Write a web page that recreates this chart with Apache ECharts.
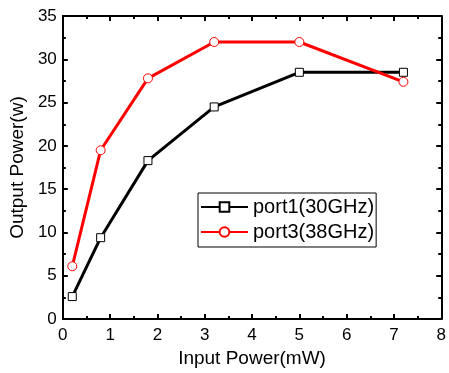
<!DOCTYPE html>
<html><head><meta charset="utf-8">
<script src="https://cdn.jsdelivr.net/npm/echarts@6/dist/echarts.min.js"></script>
<style>html,body{margin:0;padding:0;background:#fff}#c{width:449px;height:373px}</style>
</head><body><div id="c"></div>
<script>
const xInput = [0.2, 0.8, 1.8, 3.2, 5, 7.2];
const port1 = [2.6, 9.4, 18.3, 24.5, 28.5, 28.5];
const port3 = [6.1, 19.5, 27.8, 32, 32, 27.4];
const seriesNames = ['port1(30GHz)', 'port3(38GHz)'];

const font = 'Liberation Sans, Arial, sans-serif';
const axisCommon = {
  axisLine: {show: true, onZero: false, lineStyle: {color: '#000', width: 2}},
  axisTick: {show: true, inside: true, length: 5, lineStyle: {color: '#000', width: 2}},
  minorTick: {show: true, splitNumber: 2, length: 3, lineStyle: {color: '#000', width: 2}},
  splitLine: {show: false}
};
const chart = echarts.init(document.getElementById('c'));
chart.setOption({
  animation: false,
  grid: {left: 61, right: 4, top: 16, bottom: 48},
  xAxis: [
    Object.assign({type: 'value', min: 0, max: 8, interval: 1, position: 'bottom',
      name: 'Input Power(mW)', nameLocation: 'middle', nameGap: 27,
      nameTextStyle: {fontFamily: font, fontSize: 19, color: '#000'},
      axisLabel: {fontFamily: font, fontSize: 17, color: '#000', margin: 8}}, axisCommon),
    Object.assign({type: 'value', min: 0, max: 8, interval: 1, position: 'top',
      axisLabel: {show: false}}, axisCommon)
  ],
  yAxis: [
    Object.assign({type: 'value', min: 0, max: 35, interval: 5, position: 'left',
      name: 'Output Power(w)', nameLocation: 'middle', nameGap: 30,
      nameTextStyle: {fontFamily: font, fontSize: 19, color: '#000'},
      axisLabel: {fontFamily: font, fontSize: 17, color: '#000', margin: 6}}, axisCommon),
    Object.assign({type: 'value', min: 0, max: 35, interval: 5, position: 'right',
      axisLabel: {show: false}}, axisCommon)
  ],
  legend: {
    orient: 'vertical', left: 198, top: 193,
    borderColor: '#000', borderWidth: 1, borderRadius: 0,
    padding: [4, 2, 5, 2], itemGap: 5, itemWidth: 47, itemHeight: 12,
    textStyle: {fontFamily: font, fontSize: 20, color: '#000'},
    data: seriesNames
  },
  series: [
    {name: seriesNames[0], type: 'line', data: xInput.map((x, i) => [x, port1[i]]),
     symbol: 'rect', symbolSize: 8, showAllSymbol: true,
     lineStyle: {color: '#000', width: 3},
     itemStyle: {color: '#fff', borderColor: '#000', borderWidth: 1}},
    {name: seriesNames[1], type: 'line', data: xInput.map((x, i) => [x, port3[i]]),
     symbol: 'circle', symbolSize: 9, showAllSymbol: true,
     lineStyle: {color: '#f00', width: 3},
     itemStyle: {color: '#fff', borderColor: '#f00', borderWidth: 1}}
  ]
});
</script></body></html>
